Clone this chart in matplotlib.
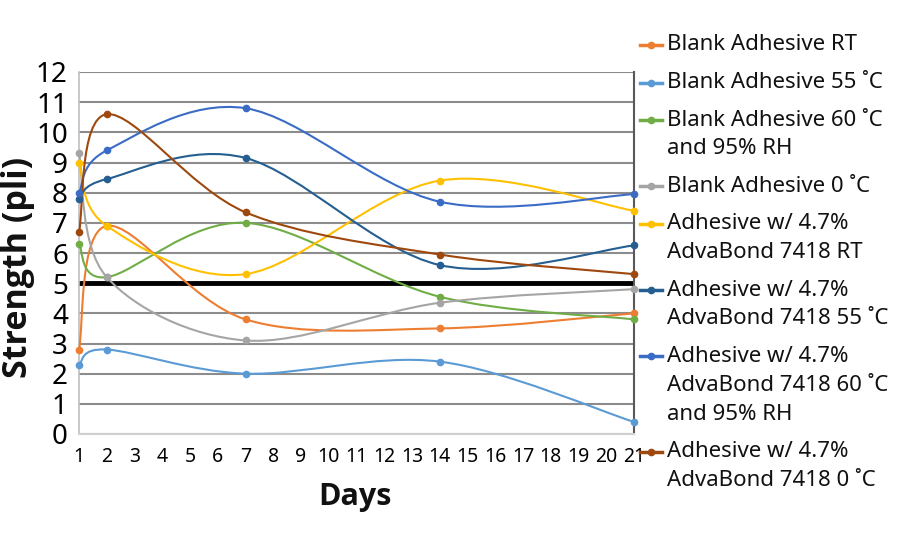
import numpy as np
import matplotlib
matplotlib.use("Agg")
import matplotlib.pyplot as plt
from matplotlib.path import Path
from matplotlib.patches import PathPatch
from matplotlib.lines import Line2D

plt.rcParams['font.family'] = ['Noto Sans', 'DejaVu Sans']

days = [1, 2, 7, 14, 21]

blank_rt = [2.8, 6.9, 3.8, 3.5, 4.0]
blank_55 = [2.3, 2.8, 2.0, 2.4, 0.4]
blank_60rh = [6.3, 5.2, 7.0, 4.55, 3.8]
blank_0 = [9.3, 5.2, 3.1, 4.35, 4.8]
adva_rt = [9.0, 6.9, 5.3, 8.4, 7.4]
adva_55 = [7.8, 8.45, 9.15, 5.6, 6.25]
adva_60rh = [8.0, 9.4, 10.8, 7.7, 7.95]
adva_0 = [6.7, 10.6, 7.35, 5.95, 5.3]

threshold = 5

labels = [
    "Blank Adhesive RT",
    "Blank Adhesive 55 ˚C",
    "Blank Adhesive 60 ˚C\nand 95% RH",
    "Blank Adhesive 0 ˚C",
    "Adhesive w/ 4.7%\nAdvaBond 7418 RT",
    "Adhesive w/ 4.7%\nAdvaBond 7418 55 ˚C",
    "Adhesive w/ 4.7%\nAdvaBond 7418 60 ˚C\nand 95% RH",
    "Adhesive w/ 4.7%\nAdvaBond 7418 0 ˚C",
]
series = [blank_rt, blank_55, blank_60rh, blank_0, adva_rt, adva_55, adva_60rh, adva_0]
colors = ["#ED7D31", "#5B9BD5", "#70AD47", "#A5A5A5",
          "#FFC000", "#255E91", "#3A6CC6", "#9E480E"]


def smooth_path(xs, ys):
    # Excel-style smoothed line: cubic bezier segments through the points
    p = np.column_stack([xs, ys]).astype(float)
    n = len(p)
    verts = [p[0]]
    codes = [Path.MOVETO]
    for i in range(n - 1):
        p0 = p[i - 1] if i > 0 else p[i]
        p1 = p[i]
        p2 = p[i + 1]
        p3 = p[i + 2] if i + 2 < n else p[i + 1]
        c1 = p1 + (p2 - p0) / 6.0
        c2 = p2 - (p3 - p1) / 6.0
        verts += [c1, c2, p2]
        codes += [Path.CURVE4] * 3
    return Path(verts, codes)


fig = plt.figure(figsize=(9, 5.5), dpi=100)
ax = fig.add_axes([79 / 900, 1 - 434 / 550, (634 - 79) / 900, (434 - 72) / 550])

ax.set_xlim(1, 21)
ax.set_ylim(0, 12)
ax.set_yticks(range(0, 13))
ax.set_xticks(range(1, 22))
ax.grid(axis="y", color="#8C8C8C", linewidth=1.5)
ax.set_axisbelow(True)
ax.tick_params(axis="y", length=0, pad=8, labelsize=20)
ax.tick_params(axis="x", length=0, pad=9, labelsize=14)

ax.spines["top"].set_visible(False)
ax.spines["left"].set_color("#BFBFBF")
ax.spines["bottom"].set_color("#D0D0D0")
ax.spines["right"].set_color("#595959")
ax.spines["left"].set_linewidth(1.2)
ax.spines["bottom"].set_linewidth(1.5)
ax.spines["right"].set_linewidth(1.5)

ax.plot([days[0], days[-1]], [threshold, threshold], color="black", linewidth=3.5, zorder=2)

for vals, col in zip(series, colors):
    patch = PathPatch(smooth_path(days, vals), facecolor="none", edgecolor=col,
                      linewidth=1.5, zorder=3, clip_on=False)
    ax.add_patch(patch)
    ax.plot(days, vals, linestyle="none", marker="o", markersize=4.5,
            color=col, zorder=4, clip_on=False)

bold = ['Open Sans', 'DejaVu Sans']
fig.text(18 / 900, 1 - 267 / 550, "Strength (pli)", rotation=90, fontsize=24.5,
         fontweight="bold", family=bold, ha="center", va="center", color="#111111")
fig.text(355 / 900, 1 - 497 / 550, "Days", fontsize=22, fontweight="bold",
         family=bold, ha="center", va="center", color="#111111")

# legend drawn by hand so handles sit on the first line of each label
y = 45
for lab, col in zip(labels, colors):
    yf = 1 - y / 550
    fig.add_artist(Line2D([640 / 900, 662 / 900], [yf, yf], color=col, linewidth=2.5))
    fig.add_artist(Line2D([651 / 900], [yf], color=col, marker="o", markersize=4.5))
    lines = lab.split("\n")
    for k, line in enumerate(lines):
        fig.text(667 / 900, 1 - (y + k * 28.8) / 550, line, fontsize=16,
                 va="center", ha="left", color="#111111")
    y += (len(lines) - 1) * 28.8 + 37.5

fig.savefig("out.png", dpi=100)
